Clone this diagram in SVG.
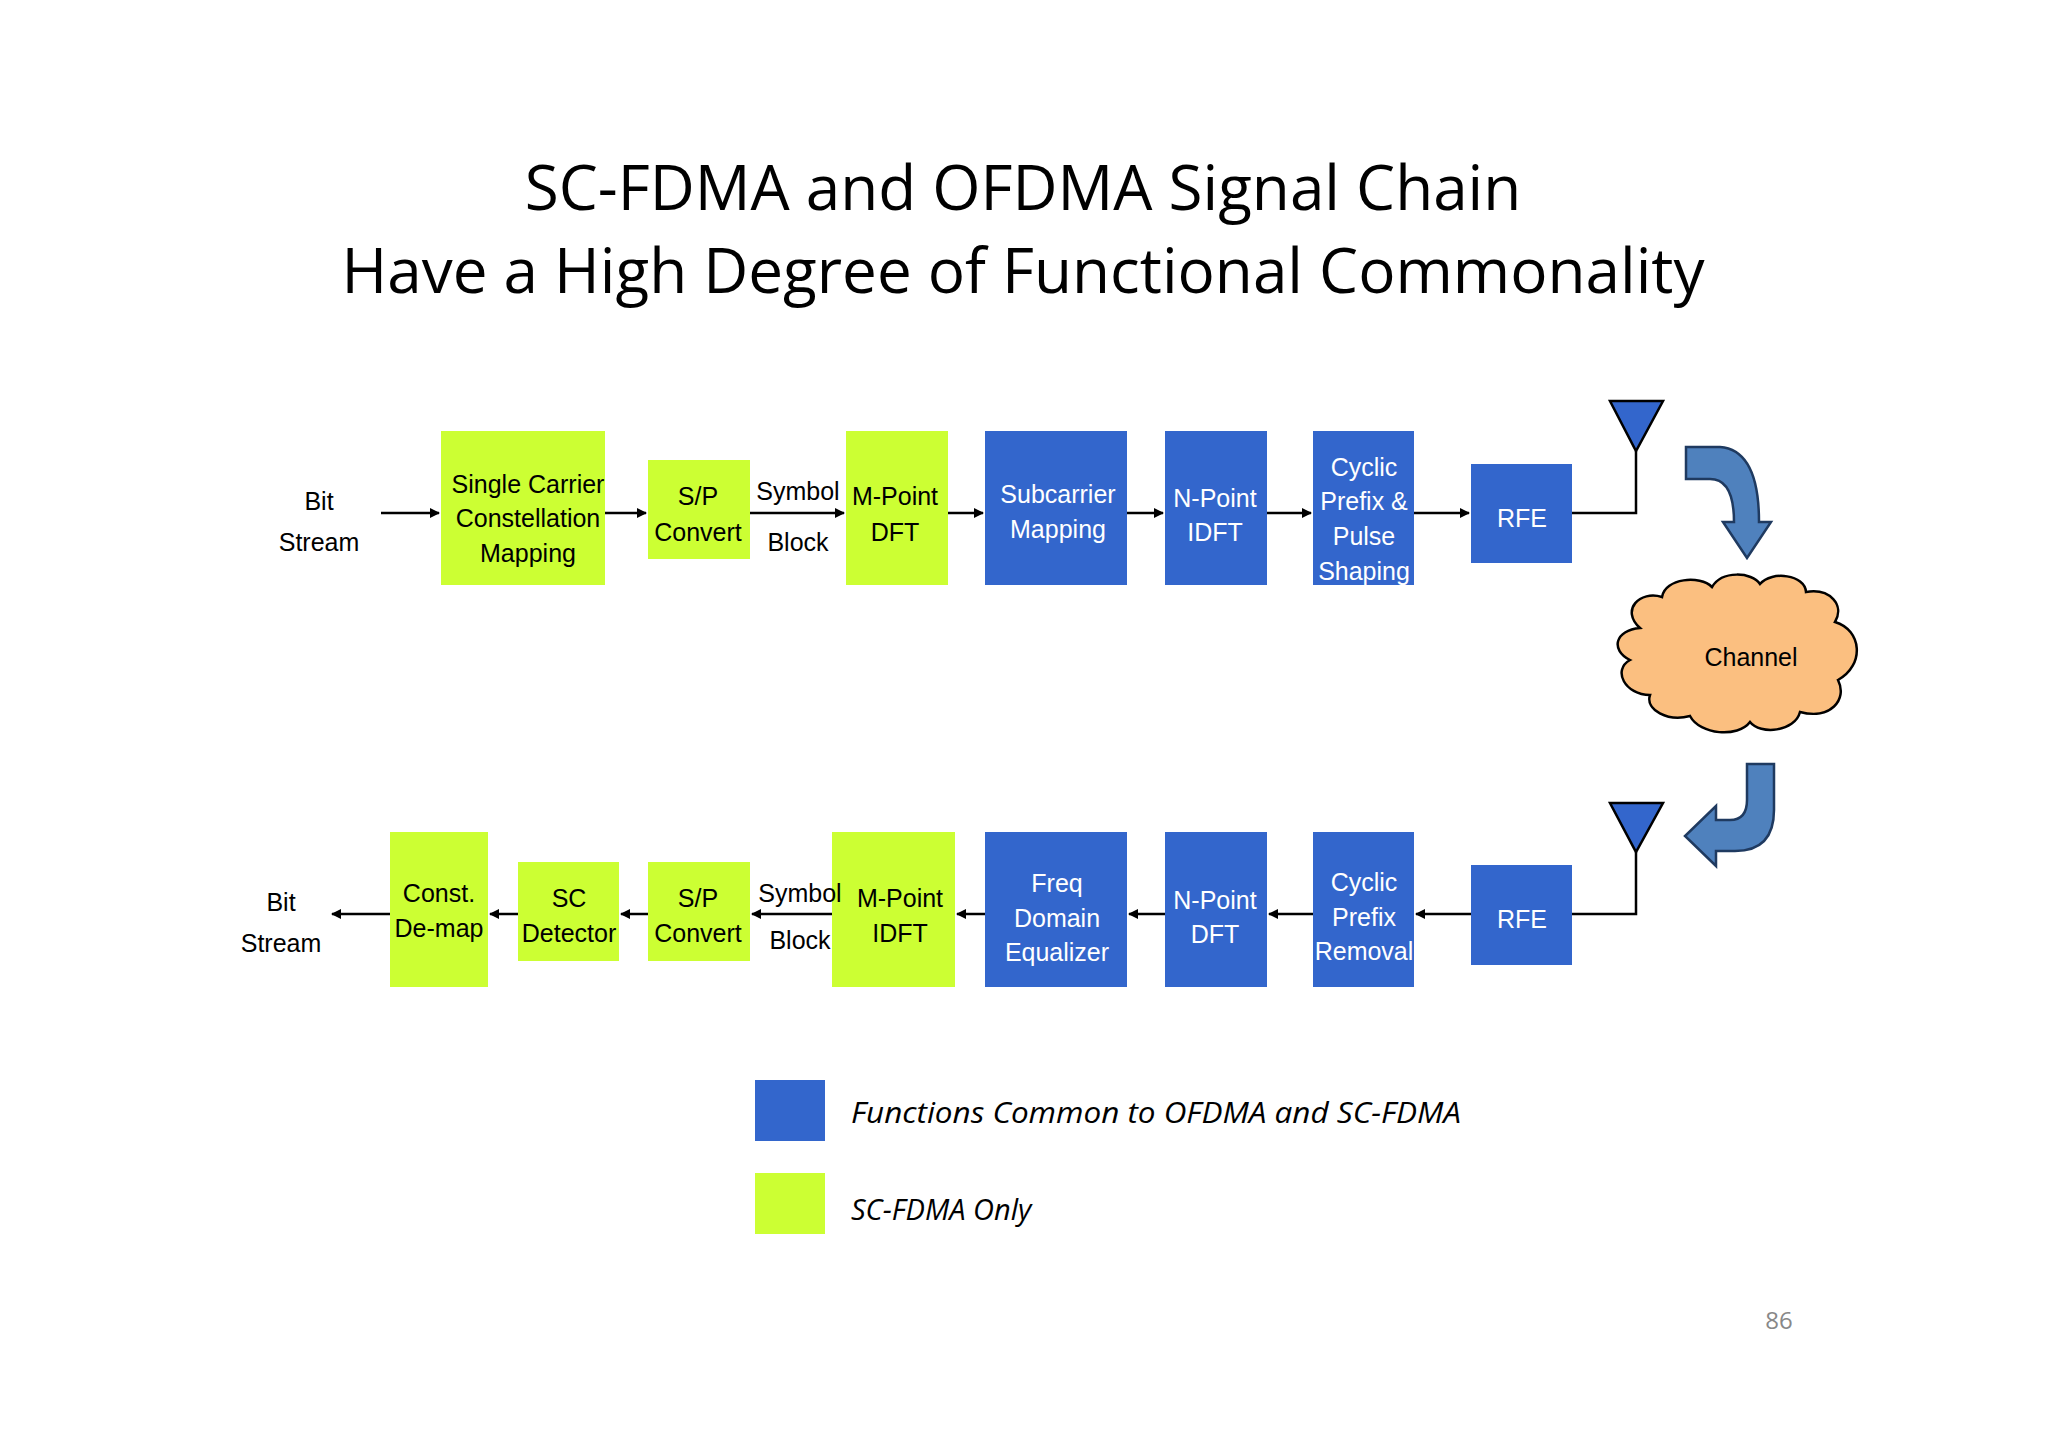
<svg xmlns="http://www.w3.org/2000/svg" width="2048" height="1447" viewBox="0 0 2048 1447">
<style>
.g{fill:#CCFF33}.b{fill:#3366CC}
.t{font-family:"Liberation Sans",Arial,sans-serif;font-size:25px;text-anchor:middle;fill:#000}
.tw{font-family:"Liberation Sans",Arial,sans-serif;font-size:25px;text-anchor:middle;fill:#fff}
.c{stroke:#000;stroke-width:2.5;fill:none}
.h{font-family:"Open Sans","Liberation Sans",sans-serif;font-size:62px;text-anchor:middle;fill:#000}
.lg{font-family:"Open Sans","Liberation Sans",sans-serif;font-size:29px;font-style:italic;fill:#000}
</style>
<defs>
<marker id="a" markerWidth="10" markerHeight="10" refX="9" refY="5" orient="auto" markerUnits="userSpaceOnUse"><path d="M0,0 L10,5 L0,10 Z" fill="#000"/></marker>
</defs>
<rect width="2048" height="1447" fill="#fff"/>
<text class="h" x="1023" y="210">SC-FDMA and OFDMA Signal Chain</text>
<text class="h" x="1023" y="293">Have a High Degree of Functional Commonality</text>

<g id="conn">
<line class="c" x1="381" y1="513" x2="439" y2="513" marker-end="url(#a)"/>
<line class="c" x1="605" y1="513" x2="646" y2="513" marker-end="url(#a)"/>
<line class="c" x1="750" y1="513" x2="844" y2="513" marker-end="url(#a)"/>
<line class="c" x1="948" y1="513" x2="983" y2="513" marker-end="url(#a)"/>
<line class="c" x1="1127" y1="513" x2="1163" y2="513" marker-end="url(#a)"/>
<line class="c" x1="1267" y1="513" x2="1311" y2="513" marker-end="url(#a)"/>
<line class="c" x1="1414" y1="513" x2="1469" y2="513" marker-end="url(#a)"/>
<polyline class="c" points="1572,513 1636,513 1636,451"/>
<polyline class="c" points="1572,914 1636,914 1636,852"/>
<line class="c" x1="1471" y1="914" x2="1416" y2="914" marker-end="url(#a)"/>
<line class="c" x1="1313" y1="914" x2="1269" y2="914" marker-end="url(#a)"/>
<line class="c" x1="1165" y1="914" x2="1129" y2="914" marker-end="url(#a)"/>
<line class="c" x1="985" y1="914" x2="957" y2="914" marker-end="url(#a)"/>
<line class="c" x1="832" y1="914" x2="752" y2="914" marker-end="url(#a)"/>
<line class="c" x1="648" y1="914" x2="621" y2="914" marker-end="url(#a)"/>
<line class="c" x1="518" y1="914" x2="490" y2="914" marker-end="url(#a)"/>
<line class="c" x1="390" y1="914" x2="332" y2="914" marker-end="url(#a)"/>
</g>

<g id="bit1"><text class="t" x="319" y="510" font-size="29">Bit</text><text class="t" x="319" y="551" font-size="29">Stream</text></g>
<g id="scm"><rect class="g" x="441" y="431" width="164" height="154"/><text class="t" x="528" y="493">Single Carrier</text><text class="t" x="528" y="527">Constellation</text><text class="t" x="528" y="562">Mapping</text></g>
<g id="sp1"><rect class="g" x="648" y="460" width="102" height="99"/><text class="t" x="698" y="505">S/P</text><text class="t" x="698" y="541">Convert</text></g>
<g id="sb1"><text class="t" x="798" y="500">Symbol</text><text class="t" x="798" y="551">Block</text></g>
<g id="dft"><rect class="g" x="846" y="431" width="102" height="154"/><text class="t" x="895" y="505">M-Point</text><text class="t" x="895" y="541">DFT</text></g>
<g id="subm"><rect class="b" x="985" y="431" width="142" height="154"/><text class="tw" x="1058" y="503">Subcarrier</text><text class="tw" x="1058" y="538">Mapping</text></g>
<g id="idft"><rect class="b" x="1165" y="431" width="102" height="154"/><text class="tw" x="1215" y="507">N-Point</text><text class="tw" x="1215" y="541">IDFT</text></g>
<g id="cpps"><rect class="b" x="1313" y="431" width="101" height="154"/><text class="tw" x="1364" y="476">Cyclic</text><text class="tw" x="1364" y="510">Prefix &amp;</text><text class="tw" x="1364" y="545">Pulse</text><text class="tw" x="1364" y="580">Shaping</text></g>
<g id="rfe1"><rect class="b" x="1471" y="464" width="101" height="99"/><text class="tw" x="1522" y="527">RFE</text></g>
<g id="ant1"><polygon points="1610,401 1663,401 1636,451" fill="#3366CC" stroke="#000" stroke-width="2.5"/></g>
<g id="ar1"><path d="M1686,447 L1720,447 Q1759,450 1759,522 L1771,522 L1747,558 L1723,522 L1734,522 Q1734,479 1710,479 L1686,479 Z" fill="#4F81BD" stroke="#1F3A60" stroke-width="2.5"/></g>
<g id="channel"><path d="M1640,628 C1620,610 1640,590 1662,597 C1665,578 1700,575 1712,587 C1722,570 1752,572 1760,584 C1772,570 1805,575 1806,592 C1830,588 1845,605 1835,622 C1862,630 1865,665 1838,680 C1848,700 1830,720 1800,712 C1795,732 1760,735 1750,722 C1738,738 1700,735 1690,716 C1668,722 1645,710 1650,695 C1625,695 1612,670 1630,660 C1610,650 1615,630 1640,628 Z" fill="#FBBF80" stroke="#000" stroke-width="2.5"/><text class="t" x="1751" y="666" font-family="Open Sans, Liberation Sans, sans-serif" font-size="30">Channel</text></g>
<g id="ar2"><path d="M1747,764 L1774,764 L1774,810 Q1774,851 1735,851 L1716,851 L1716,866 L1685,836 L1716,806 L1716,820 L1730,820 Q1747,820 1747,800 Z" fill="#4F81BD" stroke="#1F3A60" stroke-width="2.5"/></g>
<g id="ant2"><polygon points="1610,803 1663,803 1636,852" fill="#3366CC" stroke="#000" stroke-width="2.5"/></g>
<g id="rfe2"><rect class="b" x="1471" y="865" width="101" height="100"/><text class="tw" x="1522" y="928">RFE</text></g>
<g id="cpr"><rect class="b" x="1313" y="832" width="101" height="155"/><text class="tw" x="1364" y="891">Cyclic</text><text class="tw" x="1364" y="926">Prefix</text><text class="tw" x="1364" y="960">Removal</text></g>
<g id="ndft"><rect class="b" x="1165" y="832" width="102" height="155"/><text class="tw" x="1215" y="909">N-Point</text><text class="tw" x="1215" y="943">DFT</text></g>
<g id="fde"><rect class="b" x="985" y="832" width="142" height="155"/><text class="tw" x="1057" y="892">Freq</text><text class="tw" x="1057" y="927">Domain</text><text class="tw" x="1057" y="961">Equalizer</text></g>
<g id="midft"><rect class="g" x="832" y="832" width="123" height="155"/><text class="t" x="900" y="907">M-Point</text><text class="t" x="900" y="942">IDFT</text></g>
<g id="sb2"><text class="t" x="800" y="902">Symbol</text><text class="t" x="800" y="949">Block</text></g>
<g id="sp2"><rect class="g" x="648" y="862" width="102" height="99"/><text class="t" x="698" y="907">S/P</text><text class="t" x="698" y="942">Convert</text></g>
<g id="scd"><rect class="g" x="518" y="862" width="101" height="99"/><text class="t" x="569" y="907">SC</text><text class="t" x="569" y="942">Detector</text></g>
<g id="cdm"><rect class="g" x="390" y="832" width="98" height="155"/><text class="t" x="439" y="902">Const.</text><text class="t" x="439" y="937">De-map</text></g>
<g id="bit2"><text class="t" x="281" y="911" font-size="29">Bit</text><text class="t" x="281" y="952" font-size="29">Stream</text></g>

<g id="legend">
<rect class="b" x="755" y="1080" width="70" height="61"/>
<rect class="g" x="755" y="1173" width="70" height="61"/>
<text class="lg" x="851" y="1123" textLength="610" lengthAdjust="spacingAndGlyphs">Functions Common to OFDMA and SC-FDMA</text>
<text class="lg" x="851" y="1220">SC-FDMA Only</text>
</g>
<text x="1779" y="1329" font-family="Open Sans, Liberation Sans, sans-serif" font-size="24" fill="#888" text-anchor="middle">86</text>
</svg>
